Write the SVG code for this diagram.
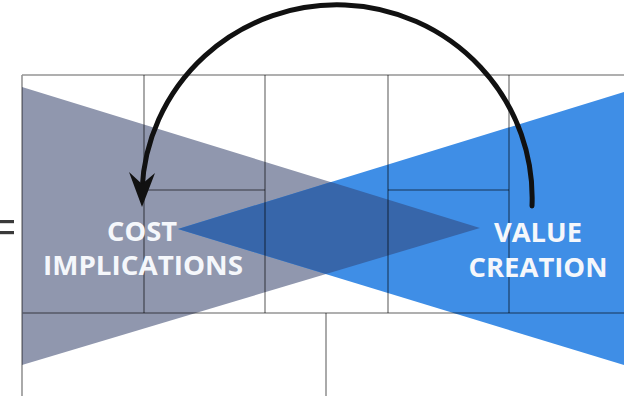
<svg xmlns="http://www.w3.org/2000/svg" width="624" height="396" viewBox="0 0 624 396">
  <style>
    .grid { stroke: #000; stroke-opacity: 0.42; stroke-width: 1.6; fill: none; }
    .label { font-family: "Open Sans", "Liberation Sans", sans-serif; font-weight: 700; font-size: 27px; fill: #f5f7fb; text-anchor: middle; }
  </style>
  <rect width="624" height="396" fill="#ffffff"/>

  <!-- equals sign at the left margin -->
  <g id="equals" fill="#3a3a3a">
    <rect x="0" y="220" width="14" height="3.2"/>
    <rect x="0" y="231" width="14" height="3.2"/>
  </g>

  <!-- two opposing wedges and their overlap -->
  <g id="cost-wedge">
    <polygon points="22,87 22,365 480,228" fill="#9097ae"/>
  </g>
  <g id="value-wedge">
    <polygon points="624,92 624,365 178,229" fill="#3f8ee6"/>
  </g>
  <g id="overlap">
    <polygon points="178,229 331,182 480,228 326,274" fill="#3766aa"/>
  </g>

  <!-- grid lines -->
  <g id="grid" class="grid">
    <path d="M22,75 H624 M22,75 V396 M22,313 H624"/>
    <path d="M144,75 V313 M265,75 V313 M388,75 V313 M509,75 V313"/>
    <path d="M144,190 H265 M388,190 H509"/>
    <path d="M326,313 V396"/>
  </g>

  <!-- labels -->
  <g id="cost-implications">
    <text class="label" x="142" y="241" textLength="70" lengthAdjust="spacingAndGlyphs">COST</text>
    <text class="label" x="143" y="275" textLength="200" lengthAdjust="spacingAndGlyphs">IMPLICATIONS</text>
  </g>
  <g id="value-creation">
    <text class="label" x="538" y="242" textLength="88" lengthAdjust="spacingAndGlyphs">VALUE</text>
    <text class="label" x="538" y="277" textLength="139" lengthAdjust="spacingAndGlyphs">CREATION</text>
  </g>

  <!-- curved arrow from value creation back to cost implications -->
  <g id="connectors">
    <path d="M532,206 A195 193 0 0 0 142,190" fill="none" stroke="#111" stroke-width="5" stroke-linecap="round"/>
    <polygon points="142,207 129,172 142,184 155,173" fill="#111"/>
  </g>
</svg>
